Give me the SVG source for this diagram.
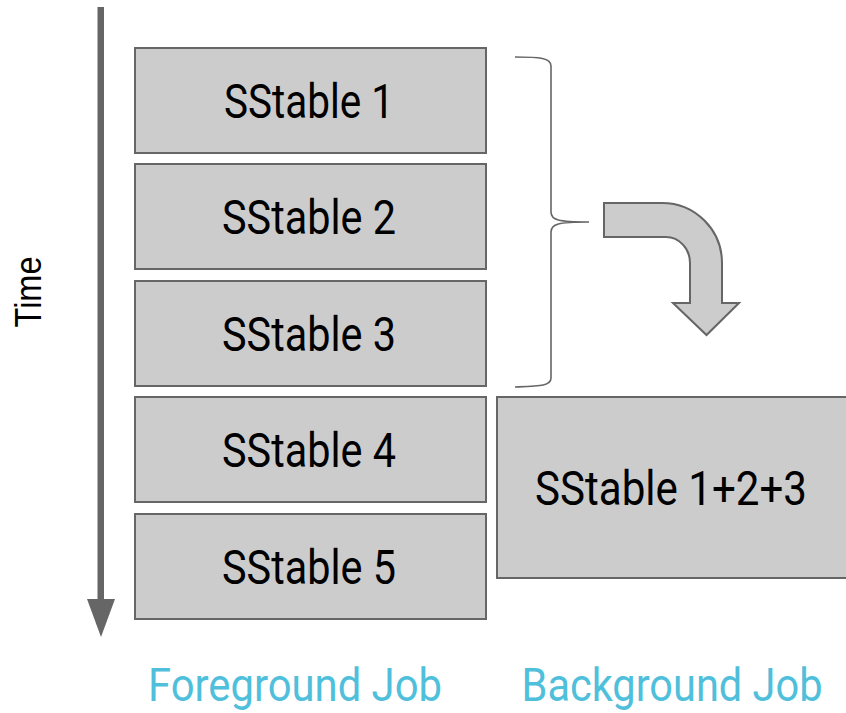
<svg xmlns="http://www.w3.org/2000/svg" width="846" height="713" viewBox="0 0 846 713">
<style>
.box{fill:#cccccc;stroke:#666666;stroke-width:2}
.lbl{font-family:Roboto,"Liberation Sans",sans-serif;font-size:48px;fill:#000000;text-anchor:middle}
.job{font-family:Roboto,"Liberation Sans",sans-serif;font-size:46px;fill:#4fbfdb;text-anchor:middle}
.conn{fill:none;stroke:#666666}
</style>
<rect width="846" height="713" fill="#ffffff"/>
<g id="time-axis">
<rect x="97.5" y="7" width="6.5" height="594" fill="#666666"/>
<polygon points="87,599 115,599 101,637" fill="#666666"/>
<text transform="translate(41,292) rotate(-90)" font-family="'Liberation Sans',Arial,sans-serif" font-size="37" fill="#000000" text-anchor="middle" textLength="71" lengthAdjust="spacingAndGlyphs">Time</text>
</g>
<g id="sstable1"><rect class="box" x="135" y="48" width="351" height="105"/><text class="lbl" x="309" y="118" textLength="170" lengthAdjust="spacingAndGlyphs">SStable 1</text></g>
<g id="sstable2"><rect class="box" x="135" y="164" width="351" height="105"/><text class="lbl" x="309" y="234" textLength="174" lengthAdjust="spacingAndGlyphs">SStable 2</text></g>
<g id="sstable3"><rect class="box" x="135" y="281" width="351" height="105"/><text class="lbl" x="309" y="351" textLength="174" lengthAdjust="spacingAndGlyphs">SStable 3</text></g>
<g id="sstable4"><rect class="box" x="135" y="397" width="351" height="105"/><text class="lbl" x="309" y="467" textLength="174" lengthAdjust="spacingAndGlyphs">SStable 4</text></g>
<g id="sstable5"><rect class="box" x="135" y="514" width="351" height="105"/><text class="lbl" x="309" y="584" textLength="174" lengthAdjust="spacingAndGlyphs">SStable 5</text></g>
<g id="sstable123"><rect class="box" x="497" y="397" width="352" height="181"/><text class="lbl" x="671" y="505" textLength="272" lengthAdjust="spacingAndGlyphs">SStable 1+2+3</text></g>
<g id="connectors">
<path class="conn" stroke-width="1.6" d="M515,57 C540,57 551,58 551,66 L551,212 C551,220 558,222 589,222 C558,222 551,224 551,232 L551,378 C551,386 540,386 515,387"/>
<path d="M604,203 L662,203 A60,60 0 0 1 722,263 L722,303 L739,303 L706.5,335 L673,303 L690,303 L690,263 A24,26 0 0 0 666,237 L604,237 Z" fill="#cccccc" stroke="#666666" stroke-width="2" stroke-linejoin="miter"/>
</g>
<g id="foreground-label"><text class="job" x="295" y="701" textLength="294" lengthAdjust="spacingAndGlyphs">Foreground Job</text></g>
<g id="background-label"><text class="job" x="672" y="701" textLength="301" lengthAdjust="spacingAndGlyphs">Background Job</text></g>
</svg>
